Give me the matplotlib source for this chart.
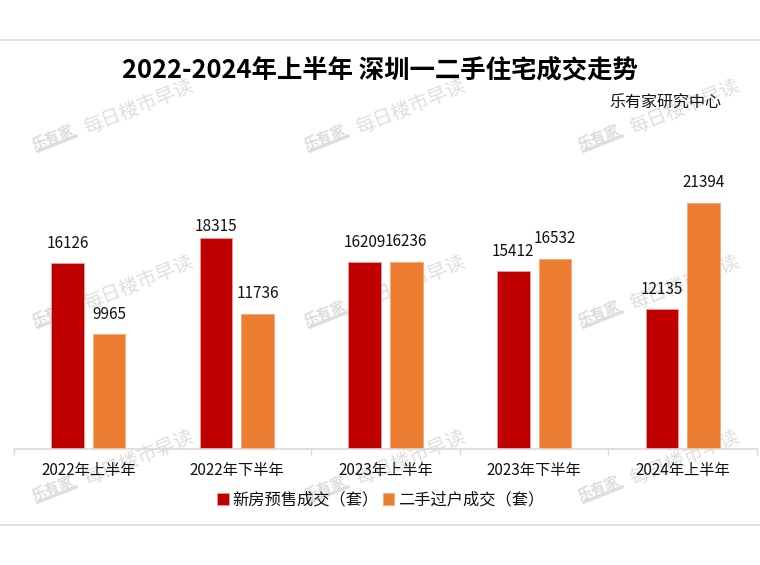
import matplotlib.pyplot as plt
from matplotlib.lines import Line2D
from matplotlib.patches import Patch
import numpy as np

plt.rcParams['font.family'] = ['Noto Sans CJK SC', 'DejaVu Sans']

categories = ['2022年上半年', '2022年下半年', '2023年上半年', '2023年下半年', '2024年上半年']
new_home = [16126, 18315, 16209, 15412, 12135]
second_hand = [9965, 11736, 16236, 16532, 21394]
series_names = ['新房预售成交（套）', '二手过户成交（套）']

W, H = 760, 565
RED = '#c00000'
ORANGE = '#ed7d31'
GREY = '#d9d9d9'


def fx(px):
    return px / W


def fy(py):
    return 1 - py / H


fig = plt.figure(figsize=(W / 100, H / 100), dpi=100, facecolor='white')

# plot area: baseline at y=449, 25000 units = 288 px
ax = fig.add_axes([fx(14), fy(449), (757 - 14) / W, 288 / H])
ax.patch.set_visible(False)

# watermark, repeats over the picture and sits behind the bars
for col in [0, 272, 546]:
    for row in [0, 176, 351]:
        fig.text(fx(139 + col), fy(107 + row), '每日楼市早读', fontsize=14, color='#dedede',
                 rotation=22, ha='center', va='center', rotation_mode='anchor', zorder=-1)
        fig.text(fx(53 + col), fy(137 + row), '乐有家', fontsize=10.5, color='#dcdcdc', fontweight='bold',
                 rotation=22, ha='center', va='center', rotation_mode='anchor', zorder=-1)
        fig.add_artist(Line2D([fx(38 + col), fx(76 + col)], [fy(151 + row), fy(136 + row)],
                              color='#dedede', lw=2.5, zorder=-1))

# top and bottom rules
for y in [40, 525]:
    fig.add_artist(Line2D([0, 1], [fy(y), fy(y)], color=GREY, lw=1.2))

x = np.arange(len(categories))
offset = 0.14
width = 0.22
ax.bar(x - offset, new_home, width, color=RED, edgecolor='#e8a0a0', linewidth=0.6, zorder=2)
ax.bar(x + offset, second_hand, width, color=ORANGE, edgecolor='#f4a878', linewidth=0.6, zorder=2)

for xs, vals in [(x - offset, new_home), (x + offset, second_hand)]:
    for xi, v in zip(xs, vals):
        # the 18315 label sits closer to its bar in the original
        up = 8.6 if v == 18315 else 14.4
        ax.annotate(str(v), (xi, v), xytext=(0, up), textcoords='offset points',
                    ha='center', va='center', fontsize=11, color='#111111')

ax.set_xlim(-0.5, len(categories) - 0.5)
ax.set_ylim(0, 25000)
ax.set_yticks([])
for side in ['top', 'left', 'right']:
    ax.spines[side].set_visible(False)
ax.spines['bottom'].set_color(GREY)
ax.spines['bottom'].set_linewidth(1.2)

ax.set_xticks(np.arange(len(categories) + 1) - 0.5)
ax.set_xticklabels([])
ax.tick_params(axis='x', which='major', length=4.3, width=1, color=GREY)
ax.set_xticks(x, minor=True)
ax.set_xticklabels(categories, minor=True, fontsize=11, color='#111111')
ax.tick_params(axis='x', which='minor', length=0, pad=9)

fig.text(fx(380), fy(70), '2022-2024年上半年 深圳一二手住宅成交走势', fontsize=18.3, fontweight='bold',
         color='black', ha='center', va='center')
fig.text(fx(721), fy(103), '乐有家研究中心', fontsize=11.5, color='#111111', ha='right', va='center')

handles = [Patch(facecolor=RED, edgecolor='#e8a0a0', linewidth=0.5),
           Patch(facecolor=ORANGE, edgecolor='#f4a878', linewidth=0.5)]
fig.legend(handles, series_names, loc='center', bbox_to_anchor=(fx(380.5), fy(500)), ncols=2, frameon=False,
           fontsize=11.7, handlelength=0.72, handleheight=0.72, handletextpad=0.22, columnspacing=0.25,
           borderpad=0, labelcolor='#111111')

fig.savefig('out.png', dpi=100, facecolor='white')
